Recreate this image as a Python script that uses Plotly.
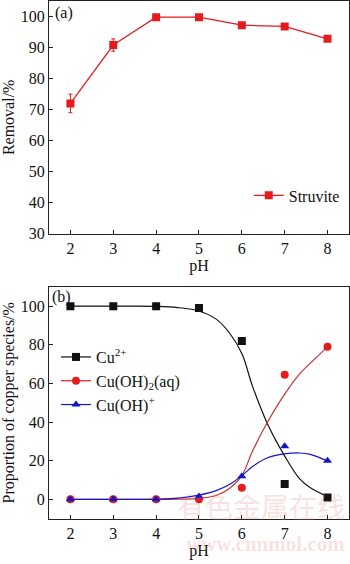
import plotly.graph_objects as go

# Panel (a)
ph = [2, 3, 4, 5, 6, 7, 8]
removal = [72.0, 90.8, 99.8, 99.8, 97.2, 96.8, 92.8]
removal_err = [3.0, 2.0, 0.5, 0.5, 0.6, 0.6, 0.6]

# Panel (b) measured points
cu2 = [100, 100, 100, 99, 82, 8, 1]
cuoh2 = [0, 0, 0, 0, 6, 64.5, 79]
cuoh = [0, 0, 0, 1.5, 12, 27.5, 20]

# Panel (b) fitted curves
fit_ph = [2, 3, 4, 4.5, 5, 5.4, 5.7, 6, 6.25, 6.6, 7, 7.35, 7.6, 8]
fit_cu2 = [100, 100, 99.9, 99.3, 97.5, 93.3, 86.5, 75.5, 58.5, 39, 22.4, 10.6, 6, 1.4]
fit_cuoh2 = [0, 0, 0, 0.1, 0.5, 2, 5.5, 12.3, 25, 40, 54.5, 65, 70.5, 78.9]
fit_cuoh = [0, 0, 0.1, 0.6, 2.2, 4.5, 7.5, 12.3, 17, 21.5, 23.5, 24, 23.3, 19.9]

xticks = [2, 3, 4, 5, 6, 7, 8]

SERIF = "Liberation Serif, Times New Roman, serif"
RED = "#e41a1c"
BLACK = "#111111"
BLUE = "#1414c8"
FS = 16

fig = go.Figure()

fig.add_trace(go.Scatter(
    x=ph, y=removal, mode="lines+markers", name="Struvite",
    line=dict(color=RED, width=1.2),
    marker=dict(symbol="square", size=8, color=RED),
    error_y=dict(type="data", array=removal_err, color=RED, thickness=1, width=2),
    xaxis="x", yaxis="y", legend="legend"))

# fitted curves
for yv, c in [(fit_cu2, BLACK), (fit_cuoh2, "#c83232"), (fit_cuoh, BLUE)]:
    fig.add_trace(go.Scatter(x=fit_ph, y=yv, mode="lines", line=dict(color=c, width=1.2, shape="spline"),
                             showlegend=False, xaxis="x2", yaxis="y2", hoverinfo="skip"))

# measured points + legend-only entries with line+marker
for name, yv, c, sym in [("Cu<sup>2+</sup>", cu2, BLACK, "square"),
                         ("Cu(OH)<sub>2</sub>(aq)", cuoh2, RED, "circle"),
                         ("Cu(OH)<sup>+</sup>", cuoh, BLUE, "triangle-up")]:
    fig.add_trace(go.Scatter(x=ph, y=yv, mode="markers", name=name,
                             marker=dict(symbol=sym, size=8, color=c),
                             showlegend=False, xaxis="x2", yaxis="y2"))
    fig.add_trace(go.Scatter(x=[None], y=[None], mode="lines+markers", name=name,
                             line=dict(color=c, width=1.2),
                             marker=dict(symbol=sym, size=8, color=c),
                             xaxis="x2", yaxis="y2", legend="legend2"))

axis_common = dict(showline=True, linecolor="#222", linewidth=1, mirror=True,
                   ticks="inside", ticklen=4, tickcolor="#222", showgrid=False, zeroline=False,
                   tickfont=dict(family=SERIF, size=FS, color="#111"))

fig.update_layout(
    width=350, height=564,
    margin=dict(l=0, r=0, t=0, b=0),
    paper_bgcolor="white", plot_bgcolor="white",
    font=dict(family=SERIF, color="#111", size=FS),
    xaxis=dict(domain=[0.14, 0.997], range=[1.5, 8.5], tickvals=xticks, anchor="y",
               title=dict(text="pH", font=dict(family=SERIF, size=FS), standoff=0), **axis_common),
    yaxis=dict(domain=[0.58, 1.0], range=[30, 105], tickvals=[30, 40, 50, 60, 70, 80, 90, 100], anchor="x",
               title=dict(text="Removal/%", font=dict(family=SERIF, size=FS), standoff=4), **axis_common),
    xaxis2=dict(domain=[0.14, 0.997], range=[1.5, 8.5], tickvals=xticks, anchor="y2",
                title=dict(text="pH", font=dict(family=SERIF, size=FS), standoff=0), **axis_common),
    yaxis2=dict(domain=[0.0656, 0.484], range=[-10, 110], tickvals=[0, 20, 40, 60, 80, 100], anchor="x2",
                title=dict(text="Proportion of copper species/%", font=dict(family=SERIF, size=FS), standoff=4),
                **axis_common),
    legend=dict(x=0.985, y=0.649, xanchor="right", yanchor="middle", bgcolor="rgba(0,0,0,0)",
                font=dict(family=SERIF, size=FS), itemwidth=30),
    legend2=dict(x=0.16, y=0.314, xanchor="left", yanchor="middle", bgcolor="rgba(0,0,0,0)",
                 font=dict(family=SERIF, size=FS), itemwidth=30, tracegroupgap=0),
    annotations=[
        dict(text="(a)", x=0.152, y=0.998, xref="paper", yref="paper", xanchor="left", yanchor="top",
             showarrow=False, font=dict(family=SERIF, size=FS)),
        dict(text="(b)", x=0.142, y=0.486, xref="paper", yref="paper", xanchor="left", yanchor="top",
             showarrow=False, font=dict(family=SERIF, size=FS)),
        dict(text="有色金属在线", x=0.99, y=0.088, xref="paper", yref="paper", xanchor="right", yanchor="middle",
             showarrow=False, font=dict(family="Noto Sans CJK SC", size=28, color="rgba(225,120,120,0.22)")),
        dict(text="<b>www.cnnmol.com</b>", x=0.99, y=0.02, xref="paper", yref="paper", xanchor="right",
             yanchor="middle", showarrow=False,
             font=dict(family=SERIF, size=21, color="rgba(225,120,120,0.22)")),
    ],
)

fig.write_html("out.html")
